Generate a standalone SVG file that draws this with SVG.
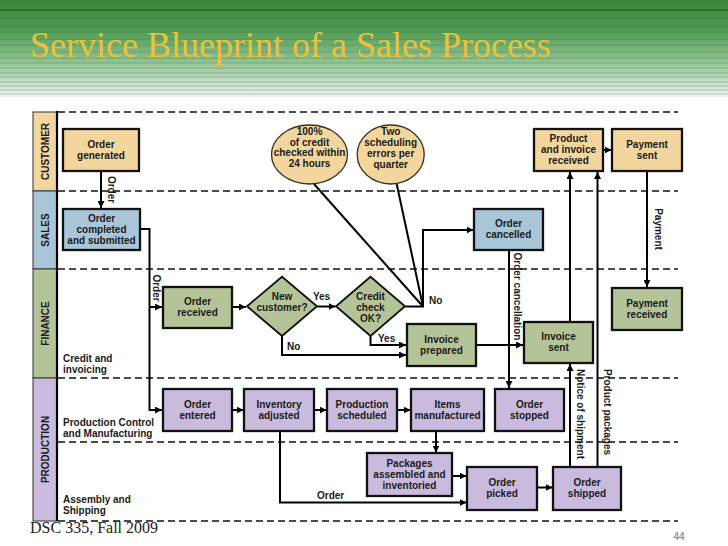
<svg xmlns="http://www.w3.org/2000/svg" width="728" height="546" viewBox="0 0 728 546">
<defs>
<linearGradient id="hdr" x1="0" y1="0" x2="0" y2="1">
<stop offset="0" stop-color="#3A873B"/>
<stop offset="0.3" stop-color="#4E9A51"/>
<stop offset="0.6" stop-color="#8BBE8C"/>
<stop offset="0.85" stop-color="#C7DFC9"/>
<stop offset="1" stop-color="#EEF3F1"/>
</linearGradient>
<marker id="ah" viewBox="0 0 10 10" refX="10" refY="5" markerWidth="7" markerHeight="7" markerUnits="userSpaceOnUse" orient="auto">
<path d="M0,0 L10,5 L0,10 z" fill="#000"/>
</marker>
<style>
.t{font-family:"Liberation Sans",Arial,sans-serif;font-weight:bold;font-size:10px;fill:#1a1a1a}
.c{text-anchor:middle}
.box{stroke:#111;stroke-width:2.3}
.cust{fill:#F3D69E}
.sale{fill:#A9C5D8}
.fin{fill:#B5C498}
.prod{fill:#C8BBDD}
.ell{fill:#F3D69E;stroke:#3b3020;stroke-width:1.3}
.dia{fill:#B5C498;stroke:#111;stroke-width:1.8}
.dash{stroke:#111;stroke-width:1.5;stroke-dasharray:7 4;fill:none}
.ln{stroke:#000;stroke-width:2;fill:none}
.arr{marker-end:url(#ah)}
.stripe{stroke:#2f6f30;stroke-opacity:0.3;stroke-width:1}
.lane{stroke:#333;stroke-width:1}
</style>
</defs>

<rect x="0" y="0" width="728" height="546" fill="#fff"/>
<!-- header -->
<rect x="0" y="0" width="728" height="97" fill="url(#hdr)"/>
<g>
<line x1="0" y1="10" x2="728" y2="10" stroke="#245f26" stroke-width="1.5"/>
<line class="stripe" x1="0" y1="18" x2="728" y2="18"/>
<line class="stripe" x1="0" y1="26" x2="728" y2="26"/>
<line class="stripe" x1="0" y1="32" x2="728" y2="32"/>
<line class="stripe" x1="0" y1="39" x2="728" y2="39"/>
<line class="stripe" x1="0" y1="45" x2="728" y2="45"/>
<line class="stripe" x1="0" y1="52" x2="728" y2="52"/>
<line class="stripe" x1="0" y1="58" x2="728" y2="58"/>
<line class="stripe" x1="0" y1="63" x2="728" y2="63"/>
<line class="stripe" x1="0" y1="68" x2="728" y2="68"/>
<line class="stripe" x1="0" y1="73" x2="728" y2="73"/>
<line class="stripe" x1="0" y1="77" x2="728" y2="77"/>
<line class="stripe" x1="0" y1="82" x2="728" y2="82"/>
<line class="stripe" x1="0" y1="86" x2="728" y2="86"/>
<line class="stripe" x1="0" y1="90" x2="728" y2="90"/>
<line class="stripe" x1="0" y1="94" x2="728" y2="94"/>
</g>
<text x="30" y="57" font-family="'Liberation Serif','Times New Roman',serif" font-size="36" fill="#EBC238">Service Blueprint of a Sales Process</text>

<!-- lanes -->
<g id="lanes">
<rect class="lane cust" x="33" y="112" width="24" height="79"/>
<rect class="lane sale" x="33" y="191" width="24" height="78"/>
<rect class="lane fin" x="33" y="269" width="24" height="109"/>
<rect class="lane prod" x="33" y="378" width="24" height="143"/>
<line x1="57" y1="111" x2="57" y2="521" stroke="#000" stroke-width="2.2"/>
<text class="t c" transform="translate(49,151.5) rotate(-90)">CUSTOMER</text>
<text class="t c" transform="translate(49,230) rotate(-90)">SALES</text>
<text class="t c" transform="translate(49,323.5) rotate(-90)">FINANCE</text>
<text class="t c" transform="translate(49,449.5) rotate(-90)">PRODUCTION</text>
<line class="dash" x1="58" y1="112" x2="678" y2="112"/>
<line class="dash" x1="58" y1="191" x2="678" y2="191"/>
<line class="dash" x1="58" y1="269" x2="678" y2="269"/>
<line class="dash" x1="58" y1="378" x2="678" y2="378"/>
<line class="dash" x1="58" y1="442" x2="678" y2="442"/>
<line class="dash" x1="58" y1="521" x2="678" y2="521"/>
<text class="t" x="63" y="362">Credit and</text>
<text class="t" x="63" y="373">invoicing</text>
<text class="t" x="63" y="426">Production Control</text>
<text class="t" x="63" y="437">and Manufacturing</text>
<text class="t" x="63" y="502.5">Assembly and</text>
<text class="t" x="63" y="513.5">Shipping</text>
</g>

<!-- connectors -->
<g id="connectors">
<path class="ln arr" d="M101,171 V208"/>
<path class="ln arr" d="M140,229 H149.5 V410 H162"/>
<path class="ln arr" d="M149.5,307 H162"/>
<path class="ln arr" d="M232,307 H246"/>
<path class="ln arr" d="M317,306.5 H335.5"/>
<path class="ln arr" d="M282,336 V355 H406"/>
<path class="ln arr" d="M370.5,336 V345 H406"/>
<path class="ln arr" d="M405,306.5 H423 V230 H473.5"/>
<path class="ln" d="M314,184 L423,306.5"/>
<path class="ln" d="M396.7,184 L423,306.5"/>
<path class="ln arr" d="M476,345 H523"/>
<path class="ln arr" d="M509,250 V388"/>
<path class="ln arr" d="M570,322 V172"/>
<path class="ln arr" d="M570,467 V364"/>
<path class="ln arr" d="M597.5,467 V172"/>
<path class="ln arr" d="M603,150 H611.5"/>
<path class="ln arr" d="M647,171 V287"/>
<path class="ln arr" d="M232,410 H243.5"/>
<path class="ln arr" d="M314,410 H326.5"/>
<path class="ln arr" d="M397,410 H410.5"/>
<path class="ln arr" d="M436,431 V452.5"/>
<path class="ln arr" d="M452,476 H466.5"/>
<path class="ln arr" d="M280,431 V502.5 H466.5"/>
<path class="ln arr" d="M537,487.5 H552.5"/>
<text class="t c" transform="translate(108,189.5) rotate(90)">Order</text>
<text class="t c" transform="translate(152.5,288) rotate(90)">Order</text>
<text class="t c" transform="translate(513.5,296.5) rotate(90)">Order cancellation</text>
<text class="t c" transform="translate(577,414) rotate(90)">Notice of shipment</text>
<text class="t c" transform="translate(604,412) rotate(90)">Product packages</text>
<text class="t c" transform="translate(655,229) rotate(90)">Payment</text>
<text class="t c" x="321.5" y="300">Yes</text>
<text class="t" x="287" y="350">No</text>
<text class="t" x="378" y="342">Yes</text>
<text class="t" x="429" y="304">No</text>
<text class="t" x="317" y="499">Order</text>
</g>

<!-- nodes -->
<g id="n-order-generated"><rect class="box cust" x="63" y="129" width="76" height="42"/><text class="t c" x="101"><tspan x="101" y="148">Order</tspan><tspan x="101" y="159.3">generated</tspan></text></g>
<g id="n-kpi-credit"><ellipse class="ell" cx="309.5" cy="154.5" rx="38" ry="29.5"/><text class="t c"><tspan x="309.5" y="134.5">100%</tspan><tspan x="309.5" y="145.5">of credit</tspan><tspan x="309.5" y="156.3">checked within</tspan><tspan x="309.5" y="167">24 hours</tspan></text></g>
<g id="n-kpi-sched"><ellipse class="ell" cx="390.7" cy="154.5" rx="33.5" ry="29.5"/><text class="t c"><tspan x="390.7" y="135.3">Two</tspan><tspan x="390.7" y="146.3">scheduling</tspan><tspan x="390.7" y="157">errors per</tspan><tspan x="390.7" y="168">quarter</tspan></text></g>
<g id="n-product-invoice-received"><rect class="box cust" x="534" y="129" width="69" height="42"/><text class="t c"><tspan x="568.5" y="142">Product</tspan><tspan x="568.5" y="153">and invoice</tspan><tspan x="568.5" y="164.3">received</tspan></text></g>
<g id="n-payment-sent"><rect class="box cust" x="612" y="129" width="70" height="42"/><text class="t c"><tspan x="647" y="148">Payment</tspan><tspan x="647" y="159.3">sent</tspan></text></g>

<g id="n-order-completed"><rect class="box sale" x="63" y="209" width="77" height="41"/><text class="t c"><tspan x="101.5" y="222">Order</tspan><tspan x="101.5" y="233">completed</tspan><tspan x="101.5" y="243.5">and submitted</tspan></text></g>
<g id="n-order-cancelled"><rect class="box sale" x="474" y="209" width="69" height="41"/><text class="t c"><tspan x="508.5" y="227">Order</tspan><tspan x="508.5" y="238">cancelled</tspan></text></g>

<g id="n-order-received"><rect class="box fin" x="163" y="287" width="69" height="41"/><text class="t c"><tspan x="197.5" y="305">Order</tspan><tspan x="197.5" y="316">received</tspan></text></g>
<g id="n-new-customer"><polygon class="dia" points="282,276.7 317,306.3 282,336 247,306.3"/><text class="t c"><tspan x="282" y="300.3">New</tspan><tspan x="282" y="311.3">customer?</tspan></text></g>
<g id="n-credit-check"><polygon class="dia" points="370.5,276.7 405,306.3 370.5,336 336,306.3"/><text class="t c"><tspan x="370.5" y="299.6">Credit</tspan><tspan x="370.5" y="311">check</tspan><tspan x="370.5" y="322">OK?</tspan></text></g>
<g id="n-invoice-prepared"><rect class="box fin" x="407" y="324" width="69" height="42"/><text class="t c"><tspan x="441.5" y="343">Invoice</tspan><tspan x="441.5" y="353.6">prepared</tspan></text></g>
<g id="n-invoice-sent"><rect class="box fin" x="524" y="322" width="69" height="41"/><text class="t c"><tspan x="558.5" y="340.3">Invoice</tspan><tspan x="558.5" y="351">sent</tspan></text></g>
<g id="n-payment-received"><rect class="box fin" x="612" y="288" width="70" height="42"/><text class="t c"><tspan x="647" y="307">Payment</tspan><tspan x="647" y="317.6">received</tspan></text></g>

<g id="n-order-entered"><rect class="box prod" x="163" y="389" width="69" height="42"/><text class="t c"><tspan x="197.5" y="408">Order</tspan><tspan x="197.5" y="419">entered</tspan></text></g>
<g id="n-inventory-adjusted"><rect class="box prod" x="244" y="389" width="70" height="42"/><text class="t c"><tspan x="279" y="408">Inventory</tspan><tspan x="279" y="419">adjusted</tspan></text></g>
<g id="n-production-scheduled"><rect class="box prod" x="327" y="389" width="70" height="42"/><text class="t c"><tspan x="362" y="408">Production</tspan><tspan x="362" y="419">scheduled</tspan></text></g>
<g id="n-items-manufactured"><rect class="box prod" x="411" y="389" width="73" height="42"/><text class="t c"><tspan x="447.5" y="408">Items</tspan><tspan x="447.5" y="419">manufactured</tspan></text></g>
<g id="n-order-stopped"><rect class="box prod" x="495" y="389" width="69" height="42"/><text class="t c"><tspan x="529.5" y="408">Order</tspan><tspan x="529.5" y="419">stopped</tspan></text></g>
<g id="n-packages"><rect class="box prod" x="367" y="453" width="85" height="43"/><text class="t c"><tspan x="409.5" y="467">Packages</tspan><tspan x="409.5" y="478">assembled and</tspan><tspan x="409.5" y="489">inventoried</tspan></text></g>
<g id="n-order-picked"><rect class="box prod" x="467" y="467" width="70" height="43"/><text class="t c"><tspan x="502" y="486">Order</tspan><tspan x="502" y="497">picked</tspan></text></g>
<g id="n-order-shipped"><rect class="box prod" x="553" y="467" width="68" height="43"/><text class="t c"><tspan x="587" y="486">Order</tspan><tspan x="587" y="497">shipped</tspan></text></g>

<text x="30" y="533" font-family="'Liberation Serif','Times New Roman',serif" font-size="16" fill="#222">DSC 335, Fall 2009</text>
<text x="679" y="540" text-anchor="middle" font-family="'Liberation Sans',Arial,sans-serif" font-weight="bold" font-size="10" fill="#999">44</text>
</svg>
